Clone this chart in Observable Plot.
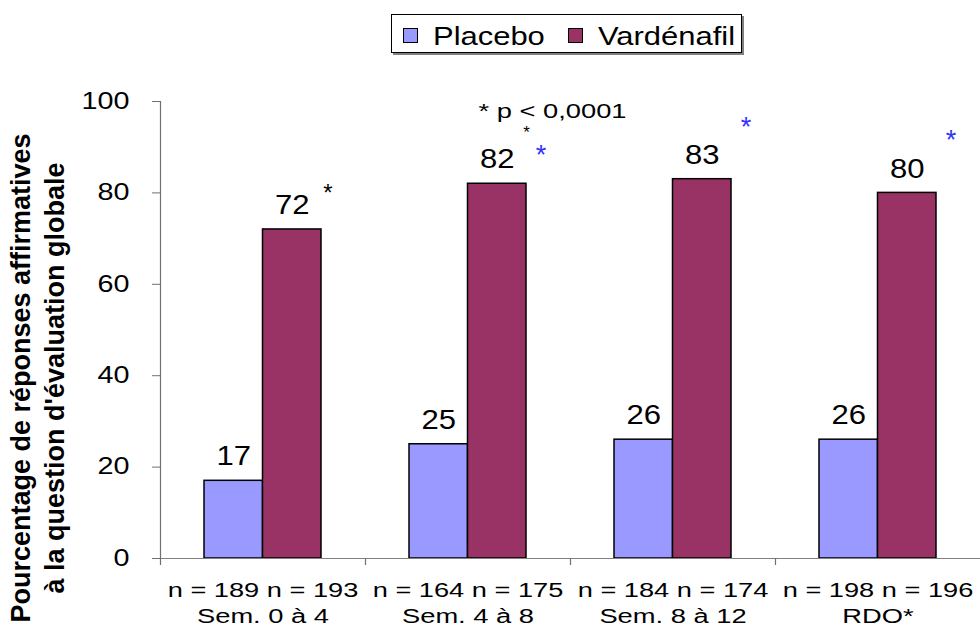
<!DOCTYPE html>
<html><head><meta charset="utf-8">
<script src="https://cdn.jsdelivr.net/npm/d3@7"></script>
<script src="https://cdn.jsdelivr.net/npm/@observablehq/plot@0.6"></script>
<style>
body{margin:0;background:#fff;font-family:"Liberation Sans",Arial,sans-serif;}
#legend{position:relative;width:980px;height:70px;}
#legend .box{position:absolute;left:391px;top:14px;width:351px;height:39px;box-sizing:border-box;border:1px solid #000;box-shadow:2px 2px 0 #808080;background:#fff;}
#legend .sw{position:absolute;top:13px;width:15px;height:15px;box-sizing:border-box;border:1px solid #000;}
#legend .lt{position:absolute;top:8px;font-size:26px;line-height:26px;color:#000;transform:scaleX(1.19);transform-origin:left center;white-space:nowrap;}
#chart svg{display:block;}
</style></head><body>
<div id="legend"><div class="box"></div></div>
<div id="chart"></div>
<script>
// ---- data ----
const categories = ["Sem. 0 à 4", "Sem. 4 à 8", "Sem. 8 à 12", "RDO*"];
const series = ["Placebo", "Vardénafil"];
const placebo = [17, 25, 26, 26];
const vardenafil = [72, 82, 83, 80];
const nPlacebo = [189, 164, 184, 198];
const nVardenafil = [193, 175, 174, 196];
const yTicks = [0, 20, 40, 60, 80, 100];
const seriesColors = ["#9999FF", "#993366"];
const yTitle = "Pourcentage de réponses affirmatives\nà la question d'évaluation globale";
// annotations (asterisks)
const blackStarCats = ["Sem. 0 à 4"];
const blackStarY = [79.9];
const blueStarCats = ["Sem. 4 à 8", "Sem. 8 à 12", "RDO*"];
const blueStarY = [88.3, 94.4, 91.5];
const pNoteCat = "Sem. 4 à 8";
const pNoteY = 97.8;
const pNoteText = "* p < 0,0001";
const pSubStarY = 93.2;

// ---- legend ----
const box = d3.select("#legend .box");
const swLeft = [11, 176], txtLeft = [41, 206];
series.forEach((s, i) => {
  box.append("span").attr("class", "sw").style("left", swLeft[i] + "px").style("background", seriesColors[i]);
  box.append("span").attr("class", "lt").style("left", txtLeft[i] + "px").text(s);
});

// ---- chart ----
const rows = categories.flatMap((c, i) => [
  {cat: c, series: series[0], value: placebo[i]},
  {cat: c, series: series[1], value: vardenafil[i]}
]);
const pl = rows.filter(d => d.series === series[0]);
const va = rows.filter(d => d.series === series[1]);
const half = 29.25;

const chart = Plot.plot({
  width: 980,
  height: 564,
  marginLeft: 160,
  marginRight: 0,
  marginTop: 31,
  marginBottom: 76,
  style: {fontFamily: "'Liberation Sans', Arial, sans-serif", background: "#fff", color: "#000"},
  x: {domain: categories, padding: 0, axis: null},
  y: {domain: [0, 100], label: null, axis: null},
  color: {domain: series, range: seriesColors},
  marks: [
    Plot.barY(pl, {x: "cat", y: "value", fill: "series", stroke: "#000", strokeWidth: 1.5, insetLeft: 44, insetRight: 102.5}),
    Plot.barY(va, {x: "cat", y: "value", fill: "series", stroke: "#000", strokeWidth: 1.5, insetLeft: 102.5, insetRight: 44}),
    Plot.ruleY([0], {stroke: "#808080", strokeWidth: 1.2, insetLeft: -8}),
    Plot.ruleX([categories[0]], {x: d => d, dx: -102.5, y1: 100, y2: 0, insetBottom: -7, stroke: "#707070", strokeWidth: 1.2}),
    Plot.ruleX(categories.slice(1), {x: d => d, dx: -102.5, y1: 0, y2: 0, insetBottom: -7, stroke: "#707070", strokeWidth: 1.2}),
    Plot.axisY({ticks: yTicks, tickSize: 8, tickPadding: 23, fontSize: 23, stroke: "#707070", fill: "#000", label: null, anchor: "left"}),
    Plot.text(pl, {x: "cat", y: "value", text: d => String(d.value), dx: -half, dy: -24, fontSize: 27, fill: "#000"}),
    Plot.text(va, {x: "cat", y: "value", text: d => String(d.value), dx: half, dy: -24, fontSize: 27, fill: "#000"}),
    Plot.text(categories, {x: d => d, text: (d, i) => `n = ${nPlacebo[i]} n = ${nVardenafil[i]}`, frameAnchor: "bottom", dy: 38, fontSize: 20, fill: "#000"}),
    Plot.text(categories, {x: d => d, text: d => d, frameAnchor: "bottom", dy: 64, fontSize: 19.5, fill: "#000"}),
    Plot.text([yTitle], {frameAnchor: "left", text: d => d, rotate: -90, textAnchor: "middle", lineAnchor: "middle", dx: -124, dy: 48, fontSize: 27, fontWeight: "bold", lineHeight: 1.25, fill: "#000"}),
    Plot.text(blackStarCats, {x: d => d, y: (d, i) => blackStarY[i], text: () => "*", dx: 65, fontSize: 24, fill: "#000"}),
    Plot.text(blueStarCats, {x: d => d, y: (d, i) => blueStarY[i], text: () => "*", dx: 73, fontSize: 27, fill: "#3333FF"}),
    Plot.text([pNoteText], {x: () => pNoteCat, y: () => pNoteY, text: d => d, textAnchor: "start", dx: 10.5, fontSize: 21, fill: "#000"}),
    Plot.text(["*"], {x: () => pNoteCat, y: () => pSubStarY, text: d => d, dx: 58.5, fontSize: 17, fill: "#000"})
  ]
});
document.getElementById("chart").appendChild(chart);

// horizontal stretch of text to match the reference's wide lettering
const stretch = {"23": 1.25, "27": 1.15, "20": 1.36, "19.5": 1.4, "21": 1.3};
chart.querySelectorAll("text").forEach(t => {
  if (t.querySelector("tspan")) return;
  const fs = String(parseFloat(getComputedStyle(t).fontSize));
  const f = stretch[fs];
  if (!f) return;
  if (t.textContent === "*") return;
  const len = t.getComputedTextLength();
  t.setAttribute("textLength", len * f);
  t.setAttribute("lengthAdjust", "spacingAndGlyphs");
});
</script>
</body></html>
